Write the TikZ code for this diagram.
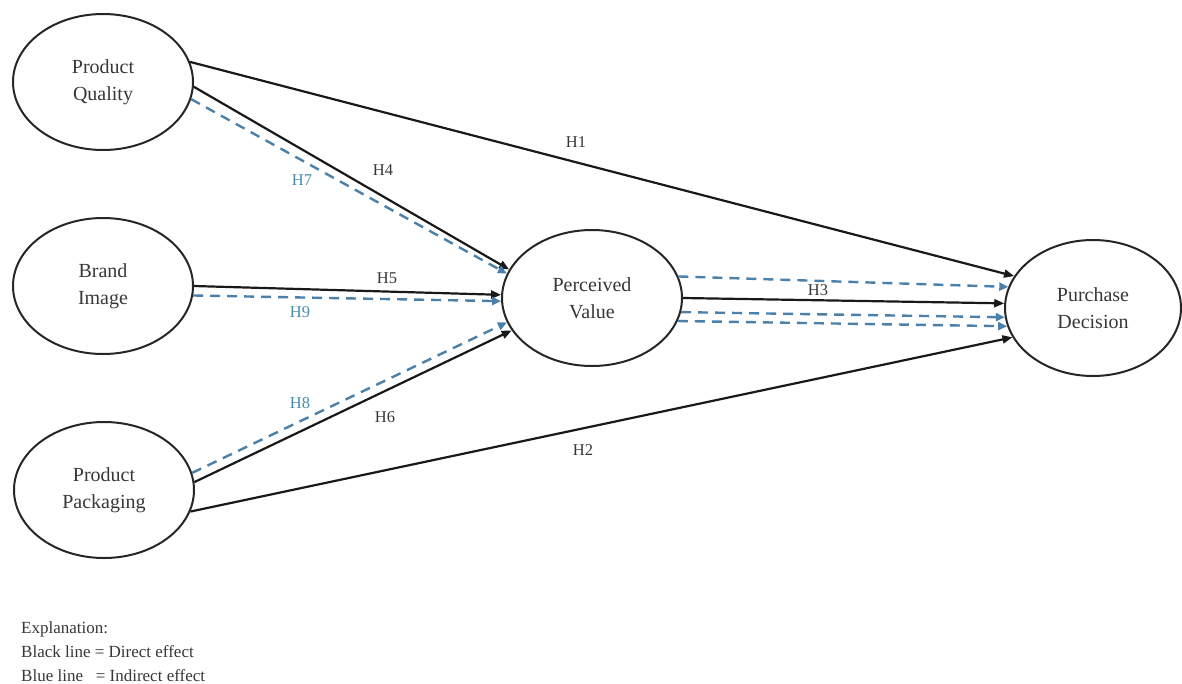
\documentclass[tikz,border=0pt]{standalone}
\usepackage{fontspec}
\setmainfont{Liberation Serif}
\usetikzlibrary{shapes.geometric,arrows.meta}
\definecolor{bl}{RGB}{74,128,170}
\definecolor{bltxt}{RGB}{70,140,170}
\definecolor{txt}{RGB}{55,55,55}
\begin{document}
\begin{tikzpicture}[x=1pt,y=-1pt,
  var/.style={ellipse, draw=black!85, line width=2pt, minimum width=180pt, minimum height=136pt, inner sep=0pt, align=center, font=\fontsize{20}{27}\selectfont, text=txt},
  dir/.style={line width=2.2pt, black!90, -{Triangle[length=10pt,width=8pt]}},
  ind/.style={line width=2.4pt, bl, dash pattern=on 10pt off 7pt, -{Triangle[length=9pt,width=8pt]}},
  lab/.style={font=\fontsize{16.5}{20}\selectfont, text=txt, inner sep=0pt},
  blab/.style={lab, text=bltxt}]
\useasboundingbox (0,0) rectangle (1182,683);
% constructs
\node[var] (pq) at (103,82) {Product\\Quality};
\node[var] (bi) at (103,286) {Brand\\Image};
\node[var] (pp) at (104,490) {Product\\Packaging};
\node[var] (pv) at (592,298) {Perceived\\Value};
\node[var, minimum width=176pt] (pd) at (1093,308) {Purchase\\Decision};
% direct effects
\draw[dir] (pq.13) -- (pd.158);
\draw[dir] (pq.-3) -- (pv.161);
\draw[dir] (bi.0) -- (pv.178);
\draw[dir] (pp.5) -- (pv.202);
\draw[dir] (pp.-14) -- (pd.200);
\draw[dir] (pv.0) -- (pd.177);
% indirect effects
\draw[ind] (pq.-11) -- (pv.164);
\draw[ind] (bi.-6) -- (pv.182);
\draw[ind] (pp.11) -- (pv.196);
\draw[ind] (pv.14) -- (pd.166);
\draw[ind] (pv.-9) -- (pd.186);
\draw[ind] (pv.-15) -- (pd.192);
% labels
\node[lab] (h1) at (576,142) {H1};
\node[lab] (h2) at (583,450) {H2};
\node[lab] (h3) at (818,290) {H3};
\node[lab] (h4) at (383,170) {H4};
\node[lab] (h5) at (387,278) {H5};
\node[lab] (h6) at (385,417) {H6};
\node[blab] (h7) at (302,180) {H7};
\node[blab] (h8) at (300,403) {H8};
\node[blab] (h9) at (300,312) {H9};
% legend
\node[anchor=north west, align=left, inner sep=0pt, font=\fontsize{17}{24}\selectfont, text=txt] (leg) at (21,621)
  {Explanation:\\Black line = Direct effect\\Blue line \ \ = Indirect effect};
\end{tikzpicture}
\end{document}
